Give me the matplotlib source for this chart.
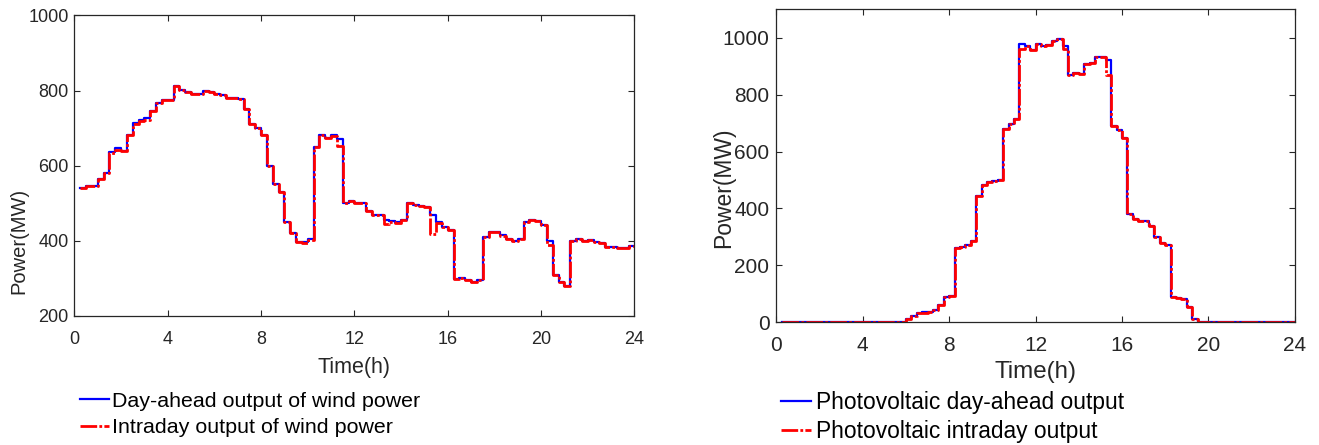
import numpy as np
import matplotlib
matplotlib.use("Agg")
import matplotlib.pyplot as plt

plt.rcParams['font.family'] = ['Liberation Sans', 'DejaVu Sans']

# time in hours, 15 min steps
hours = np.arange(1, 97) * 0.25

wind_intraday = [540, 545, 545, 565, 580, 635, 643, 640, 681, 711, 719, 722,
                 746, 767, 776, 776, 811, 802, 796, 791, 791, 798, 796, 792,
                 788, 781, 781, 779, 752, 712, 701, 682, 599, 551, 531, 451,
                 421, 396, 394, 402, 651, 682, 675, 679, 652, 500, 505, 501,
                 500, 479, 470, 470, 444, 451, 447, 456, 500, 496, 492, 490,
                 417, 448, 436, 430, 299, 301, 295, 291, 297, 410, 424, 424,
                 412, 406, 399, 406, 450, 455, 452, 441, 388, 308, 290, 279,
                 399, 406, 399, 402, 396, 393, 385, 383, 380, 380, 387, 387]

wind_dayahead = [540, 545, 545, 565, 580, 637, 646, 640, 681, 713, 722, 726,
                 746, 767, 776, 776, 813, 802, 796, 791, 791, 798, 796, 792,
                 788, 781, 781, 779, 752, 712, 701, 682, 599, 551, 531, 451,
                 421, 396, 398, 405, 651, 682, 675, 681, 670, 500, 505, 501,
                 500, 479, 470, 470, 455, 453, 450, 456, 500, 496, 492, 490,
                 470, 450, 436, 430, 299, 301, 295, 291, 297, 410, 424, 424,
                 415, 406, 399, 406, 450, 455, 452, 441, 400, 308, 290, 279,
                 399, 406, 399, 402, 396, 393, 385, 383, 380, 380, 387, 387]

pv_intraday = [0] * 23 + [10, 22, 31, 34, 37, 45, 62, 88, 94, 260, 265, 270,
                          286, 443, 484, 493, 497, 499, 681, 698, 716, 961, 971, 958,
                          979, 970, 973, 990, 996, 961, 868, 877, 871, 909, 912, 932,
                          934, 870, 689, 675, 649, 380, 362, 357, 357, 338, 300, 279,
                          271, 90, 86, 81, 53, 10] + [0] * 19

pv_dayahead = [0] * 23 + [10, 22, 31, 36, 37, 45, 62, 88, 94, 260, 265, 270,
                          286, 443, 484, 493, 497, 499, 681, 698, 716, 979, 971, 958,
                          979, 970, 973, 990, 996, 971, 868, 877, 871, 909, 912, 932,
                          934, 923, 689, 675, 649, 380, 362, 357, 357, 338, 300, 279,
                          271, 90, 86, 81, 53, 10] + [0] * 19

xticks = [0, 4, 8, 12, 16, 20, 24]

fig = plt.figure(figsize=(13.19, 4.45), dpi=100)
ax1 = fig.add_axes([0.0564, 0.2899, 0.4246, 0.6753])
ax2 = fig.add_axes([0.5886, 0.2757, 0.3930, 0.7034])

dash = (6, 0.8, 1, 0.8)
tc = '#262626'


def style(ax, fs, xpad, ypad):
    ax.set_xlim(0, 24)
    ax.set_xticks(xticks)
    ax.tick_params(direction='in', top=True, right=True, length=4, width=0.8,
                   colors=tc, labelsize=fs)
    ax.tick_params(axis='x', pad=xpad)
    ax.tick_params(axis='y', pad=ypad)
    for s in ax.spines.values():
        s.set_color(tc)
        s.set_linewidth(0.9)


# wind
l1, = ax1.step(hours, wind_dayahead, where='post', color='blue', lw=1.6)
l2, = ax1.step(hours, wind_intraday, where='post', color='red', lw=2.0,
               linestyle='-.', dashes=dash)
ax1.set_ylim(200, 1000)
ax1.set_yticks([200, 400, 600, 800, 1000])
style(ax1, 13, 11, 4)
ax1.set_xlabel('Time(h)', fontsize=15.5, color=tc, labelpad=6)
ax1.set_ylabel('Power(MW)', fontsize=14.5, color=tc)
ax1.yaxis.set_label_coords(-0.083, 0.25)
fig.legend([l1, l2], ['Day-ahead output of wind power', 'Intraday output of wind power'],
           loc='center left', bbox_to_anchor=(0.0607, 0.0685), frameon=False,
           fontsize=15.4, handlelength=1.36, handletextpad=0.14, labelspacing=0.34,
           borderpad=0, borderaxespad=0)

# photovoltaic
l3, = ax2.step(hours, pv_dayahead, where='post', color='blue', lw=1.6)
l4, = ax2.step(hours, pv_intraday, where='post', color='red', lw=2.0,
               linestyle='-.', dashes=dash)
ax2.set_ylim(0, 1100)
ax2.set_yticks([0, 200, 400, 600, 800, 1000])
style(ax2, 15, 10, 5)
ax2.set_xlabel('Time(h)', fontsize=17.4, color=tc, labelpad=4)
ax2.set_ylabel('Power(MW)', fontsize=16.5, color=tc)
ax2.yaxis.set_label_coords(-0.080, 0.43)
fig.legend([l3, l4], ['Photovoltaic day-ahead output', 'Photovoltaic intraday output'],
           loc='center left', bbox_to_anchor=(0.5918, 0.0625), frameon=False,
           fontsize=16.4, handlelength=1.33, handletextpad=0.24, labelspacing=0.28,
           borderpad=0, borderaxespad=0)

fig.savefig('out.png', dpi=100)
